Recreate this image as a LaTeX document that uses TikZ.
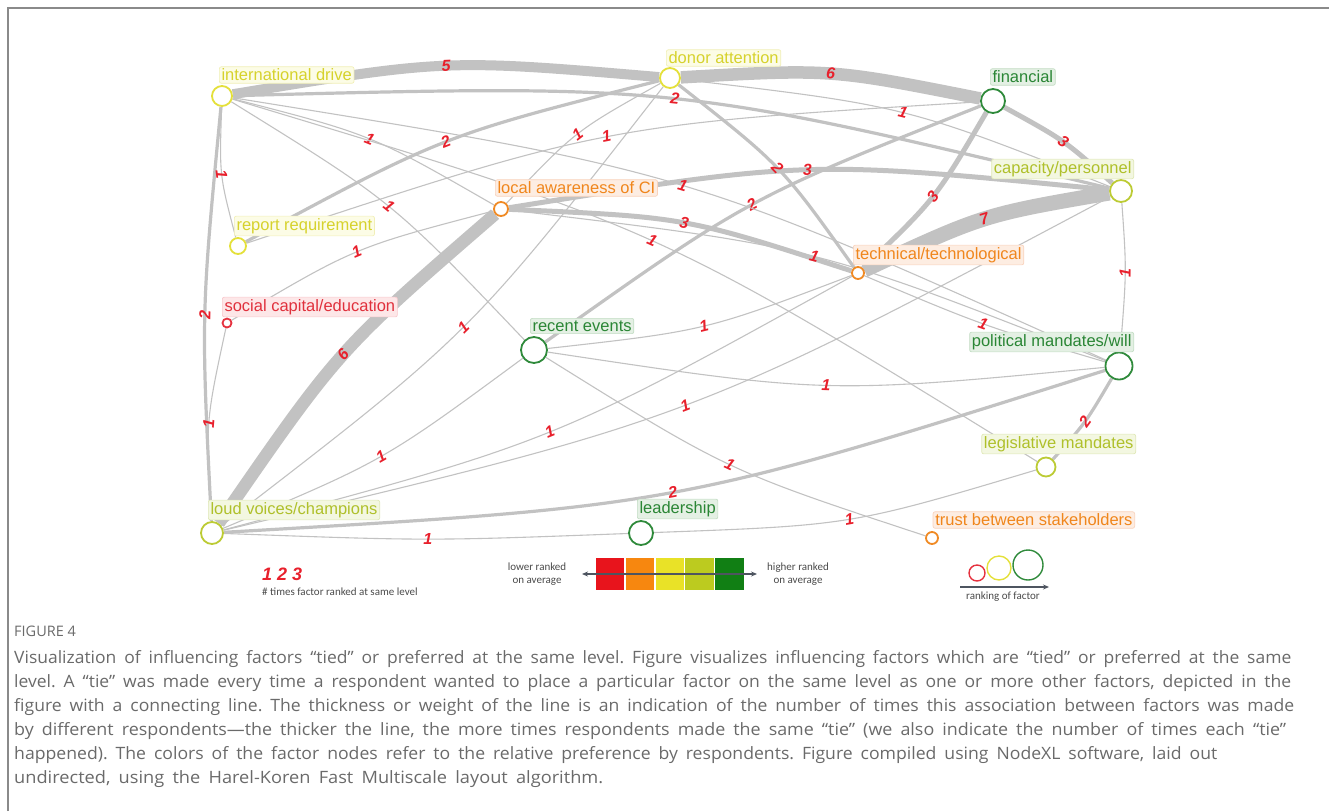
\documentclass[tikz,border=0pt]{standalone}
\usepackage{fontspec}
\usepackage{graphicx}
\setmainfont{Liberation Sans}
\newfontfamily\capfont{Open Sans}
\newfontfamily\legfont{Carlito}
\usetikzlibrary{calc,arrows.meta}
\pgfdeclarelayer{bg}
\pgfsetlayers{bg,main}
\frenchspacing
% node rim colours
\definecolor{fRed}{HTML}{E5323F}
\definecolor{fOrange}{HTML}{F08A24}
\definecolor{fYellow}{HTML}{E4E03A}
\definecolor{fYG}{HTML}{BCCB34}
\definecolor{fGreen}{HTML}{2F8A3B}
% label text / fill / border
\definecolor{tRed}{HTML}{E0303C}\definecolor{bRed}{HTML}{FDE7E8}\definecolor{dRed}{HTML}{F8C8CC}
\definecolor{tOrange}{HTML}{F0861C}\definecolor{bOrange}{HTML}{FDEDE2}\definecolor{dOrange}{HTML}{F9D3BD}
\definecolor{tYellow}{HTML}{D6D22C}\definecolor{bYellow}{HTML}{FCFCE6}\definecolor{dYellow}{HTML}{F1EFB8}
\definecolor{tYG}{HTML}{AFC02A}\definecolor{bYG}{HTML}{F3F7E1}\definecolor{dYG}{HTML}{DFE8B6}
\definecolor{tGreen}{HTML}{2A8635}\definecolor{bGreen}{HTML}{E4F0E4}\definecolor{dGreen}{HTML}{C3DDC4}
\definecolor{tieGray}{HTML}{C2C2C2}
\definecolor{numRed}{HTML}{E8202C}
\definecolor{capGray}{HTML}{6A6A6A}
\definecolor{legGray}{HTML}{4A4A4A}
\definecolor{arrGray}{HTML}{4E5560}
\definecolor{sqRed}{HTML}{E8141C}
\definecolor{sqOrange}{HTML}{F7870F}
\definecolor{sqYellow}{HTML}{E9E227}
\definecolor{sqYG}{HTML}{BCCB1F}
\definecolor{sqGreen}{HTML}{117F14}
\definecolor{frameGray}{HTML}{8A8A8A}
\tikzset{
  fac/.style 2 args={circle,draw=#1,line width=1.8pt,fill=white,minimum size=#2,inner sep=0pt},
  lab/.style={font=\fontsize{16.5}{18}\selectfont,inner sep=2.2pt,rounded corners=2pt,line width=0.7pt},
  labR/.style={lab,text=tRed,fill=bRed,draw=dRed},
  labO/.style={lab,text=tOrange,fill=bOrange,draw=dOrange},
  labY/.style={lab,text=tYellow,fill=bYellow,draw=dYellow},
  labYG/.style={lab,text=tYG,fill=bYG,draw=dYG},
  labG/.style={lab,text=tGreen,fill=bGreen,draw=dGreen},
  tieline/.style={draw=tieGray},
  num/.style={font=\fontsize{16}{16}\selectfont\bfseries\itshape,text=numRed,inner sep=0pt},
  legtxt/.style={font=\legfont\fontsize{11}{12.5}\selectfont,text=legGray,align=center,inner sep=0pt},
  sq/.style={minimum width=29.4pt,minimum height=33pt,inner sep=0pt,anchor=north west,draw=white,line width=0.4pt},
  rk/.style 2 args={circle,draw=#1,line width=1.4pt,minimum size=#2,inner sep=0pt},
  capline/.style={font=\capfont\fontsize{17}{19}\selectfont,text=capGray,anchor=base west,inner sep=0pt},
}
\newcommand\tie[5]{\draw[tieline,line width=#4] (#1) .. controls ($1.33333*(#3)-0.16667*(#1.center)-0.16667*(#2.center)$) .. (#2) node[num,pos=0.5,sloped]{#5};}
\newcommand\capfit[2]{\resizebox{#1}{\height}{\spaceskip=0.45em\relax #2}}
\begin{document}
\begin{tikzpicture}[x=1pt,y=-1pt]
\useasboundingbox (0,0) rectangle (1329,811);
\draw[frameGray,line width=2pt] (8,811) -- (8,8) -- (1329,8);
% factor nodes
\node[fac={fYellow}{20pt}] (intl) at (222,96) {};
\node[fac={fYellow}{20pt}] (donor) at (670,78) {};
\node[fac={fGreen}{24pt}] (fin) at (993,101) {};
\node[fac={fYG}{22pt}] (cap) at (1121,191) {};
\node[fac={fOrange}{14pt}] (local) at (501,209) {};
\node[fac={fYellow}{16pt}] (report) at (238,246) {};
\node[fac={fOrange}{12pt}] (tech) at (858,273) {};
\node[fac={fRed}{9pt}] (social) at (227,323) {};
\node[fac={fGreen}{26pt}] (recent) at (534,350) {};
\node[fac={fGreen}{27pt}] (polit) at (1119,366) {};
\node[fac={fYG}{19pt}] (legis) at (1046,467) {};
\node[fac={fYG}{22pt}] (loud) at (212,533) {};
\node[fac={fGreen}{24pt}] (lead) at (641,533) {};
\node[fac={fOrange}{12pt}] (trust) at (932,538) {};
% ties
\begin{pgfonlayer}{bg}
\tie{tech}{cap}{985,219}{15pt}{7}
\tie{loud}{local}{343,355}{12.5pt}{6}
\tie{donor}{fin}{831,74}{12.5pt}{6}
\tie{intl}{donor}{446,66}{10pt}{5}
\tie{fin}{cap}{1063,142}{5pt}{3}
\tie{local}{cap}{808,170}{5pt}{3}
\tie{local}{tech}{684,223}{5pt}{3}
\tie{tech}{fin}{933,196}{5pt}{3}
\tie{intl}{cap}{675,99}{3.2pt}{2}
\tie{intl}{loud}{205,315}{3.2pt}{2}
\tie{report}{donor}{446,142}{3.2pt}{2}
\tie{recent}{fin}{752,205}{3.2pt}{2}
\tie{donor}{tech}{777,168}{3.2pt}{2}
\tie{loud}{polit}{673,492}{3.2pt}{2}
\tie{polit}{legis}{1085,421}{3.2pt}{2}
\tie{donor}{cap}{903,113}{1.1pt}{1}
\tie{intl}{report}{222,174}{1.1pt}{1}
\tie{local}{donor}{578,134}{1.1pt}{1}
\tie{report}{fin}{607,137}{1.1pt}{1}
\tie{intl}{local}{369,139}{1.1pt}{1}
\tie{intl}{polit}{683,186}{1.1pt}{1}
\tie{intl}{legis}{652,241}{1.1pt}{1}
\tie{intl}{recent}{389,207}{1.1pt}{1}
\tie{social}{loud}{209,424}{1.1pt}{1}
\tie{social}{local}{357,252}{1.1pt}{1}
\tie{loud}{donor}{463,327}{1.1pt}{1}
\tie{loud}{recent}{381,456}{1.1pt}{1}
\tie{loud}{tech}{549,432}{1.1pt}{1}
\tie{loud}{cap}{685,405}{1.1pt}{1}
\tie{loud}{lead}{428,539}{1.1pt}{1}
\tie{lead}{legis}{849,519}{1.1pt}{1}
\tie{recent}{trust}{729,464}{1.1pt}{1}
\tie{recent}{polit}{826,385}{1.1pt}{1}
\tie{recent}{tech}{703,326}{1.1pt}{1}
\tie{local}{polit}{815,257}{1.1pt}{1}
\tie{tech}{polit}{984,324}{1.1pt}{1}
\tie{cap}{polit}{1125,273}{1.1pt}{1}
\end{pgfonlayer}
% factor labels
\node[labY,anchor=west] (intl-l) at (219,75) {international drive};
\node[labY,anchor=west] (donor-l) at (666,58) {donor attention};
\node[labG,anchor=west] (fin-l) at (990,77) {financial};
\node[labYG,anchor=east] (cap-l) at (1134,169) {capacity/personnel};
\node[labO,anchor=west] (local-l) at (495,188) {local awareness of CI};
\node[labY,anchor=west] (report-l) at (234,226) {report requirement};
\node[labO,anchor=west] (tech-l) at (853,255) {technical/technological};
\node[labR,anchor=west] (social-l) at (222,307) {social capital/education};
\node[labG,anchor=west] (recent-l) at (530,326) {recent events};
\node[labG,anchor=east] (polit-l) at (1134,342) {political mandates/will};
\node[labYG,anchor=east] (legis-l) at (1136,444) {legislative mandates};
\node[labYG,anchor=west] (loud-l) at (208,510) {loud voices/champions};
\node[labG,anchor=west] (lead-l) at (637,509) {leadership};
\node[labO,anchor=east] (trust-l) at (1135,520) {trust between stakeholders};
% legend: tie counts
\node[font=\fontsize{18}{18}\selectfont\bfseries\itshape,text=numRed,anchor=west,inner sep=0pt] (l123) at (262,574) {1 2 3};
\node[legtxt,anchor=west] (l123t) at (262,592) {\# times factor ranked at same level};
% legend: colour scale
\node[legtxt] (lower) at (537,574) {lower ranked\\on average};
\node[legtxt] (higher) at (798,574) {higher ranked\\on average};
\node[sq,fill=sqRed] (sq1) at (595,557) {};
\node[sq,fill=sqOrange] (sq2) at (sq1.north east) {};
\node[sq,fill=sqYellow] (sq3) at (sq2.north east) {};
\node[sq,fill=sqYG] (sq4) at (sq3.north east) {};
\node[sq,fill=sqGreen] (sq5) at (sq4.north east) {};
\coordinate (arL) at (582,574);
\coordinate (arR) at (757,574);
\draw[arrGray,line width=1.3pt,{Stealth[length=6pt,width=5pt]}-{Stealth[length=6pt,width=5pt]}] (arL) -- (arR);
% legend: ranking
\node[rk={fRed}{16pt}] (rk1) at (977,573) {};
\node[rk={fYellow}{24pt}] (rk2) at (999,568) {};
\node[rk={fGreen}{30pt}] (rk3) at (1028,565) {};
\coordinate (rkL) at (960,587);
\coordinate (rkR) at (1049,587);
\draw[arrGray,line width=1.2pt,-{Stealth[length=6pt,width=5pt]}] (rkL) -- (rkR);
\node[legtxt] (rkt) at (1003,597) {ranking of factor};
% caption
\node[font=\capfont\fontsize{14.5}{16}\selectfont,text=capGray,anchor=base west,inner sep=0pt] (fig) at (14,636) {FIGURE 4};
\node[capline] (c1) at (14,663.5) {\capfit{1277pt}{Visualization of influencing factors “tied” or preferred at the same level. Figure visualizes influencing factors which are “tied” or preferred at the same}};
\node[capline] (c2) at (14,687.5) {\capfit{1277pt}{level. A “tie” was made every time a respondent wanted to place a particular factor on the same level as one or more other factors, depicted in the}};
\node[capline] (c3) at (14,711.5) {\capfit{1280pt}{figure with a connecting line. The thickness or weight of the line is an indication of the number of times this association between factors was made}};
\node[capline] (c4) at (14,735.5) {\capfit{1272pt}{by different respondents—the thicker the line, the more times respondents made the same “tie” (we also indicate the number of times each “tie”}};
\node[capline] (c5) at (14,759.5) {\capfit{1203pt}{happened). The colors of the factor nodes refer to the relative preference by respondents. Figure compiled using NodeXL software, laid out}};
\node[capline] (c6) at (14,783.5) {\capfit{589pt}{undirected, using the Harel-Koren Fast Multiscale layout algorithm.}};
\end{tikzpicture}
\end{document}
